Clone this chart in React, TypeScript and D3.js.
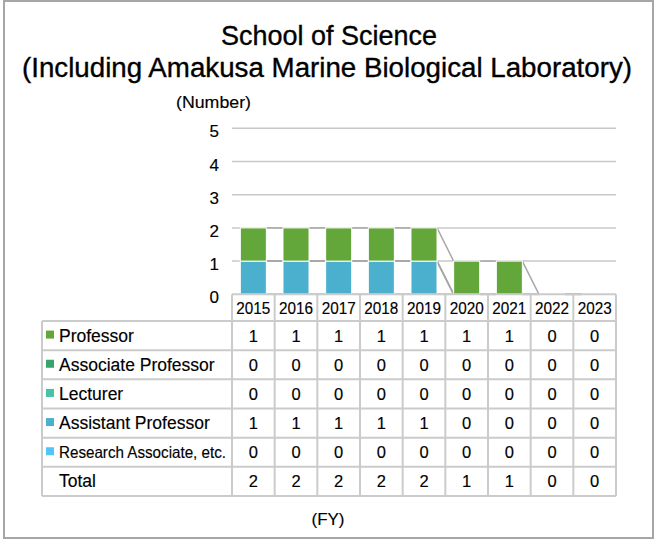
import React from "react";
import * as d3 from "d3";

const years = ["2015", "2016", "2017", "2018", "2019", "2020", "2021", "2022", "2023"];
const seriesNames = ["Professor", "Associate Professor", "Lecturer", "Assistant Professor", "Research Associate, etc."];
const professor = [1, 1, 1, 1, 1, 1, 1, 0, 0];
const associateProfessor = [0, 0, 0, 0, 0, 0, 0, 0, 0];
const lecturer = [0, 0, 0, 0, 0, 0, 0, 0, 0];
const assistantProfessor = [1, 1, 1, 1, 1, 0, 0, 0, 0];
const researchAssociate = [0, 0, 0, 0, 0, 0, 0, 0, 0];
const yTicks = [0, 1, 2, 3, 4, 5];
const seriesColors = ["#63A63A", "#38A36B", "#46C3A6", "#4BB0CD", "#52C4F7"];

const seriesValues = [professor, associateProfessor, lecturer, assistantProfessor, researchAssociate];
const totals = years.map((_, i) => seriesValues.reduce((s, arr) => s + arr[i], 0));

const FONT = "'Liberation Sans', Arial, Helvetica, sans-serif";

export default function App() {
  const W = 659, H = 541;
  const x = d3.scaleBand<string>().domain(years).range([232, 616]).padding(0);
  const y = d3.scaleLinear().domain([0, 5]).range([294.3, 128.3]);
  const barW = x.bandwidth() * 0.61;
  const barX = (yr: string) => (x(yr) as number) + (x.bandwidth() - barW) / 2;

  const rows = [...seriesNames, "Total"];
  const rowScale = d3.scaleBand<string>().domain(rows).range([321, 496]).padding(0);
  const tableTop = y(0);
  const tableBottom = 496;
  const tableLeft = 42;

  const table = years.map((yr, i) => {
    const o: any = { year: yr };
    seriesNames.forEach((n, k) => (o[n] = seriesValues[k][i]));
    return o;
  });
  const stackKeys = [...seriesNames].reverse();
  const stacked = d3.stack<any>().keys(stackKeys)(table);

  const gridColor = "#C8C8C8";
  const lineColor = "#A8A8A8";
  const tableColor = "#CBCBCB";
  const txt = { fill: "#000", stroke: "#000", strokeWidth: 0.15 };

  return (
    <svg width={W} height={H} style={{ position: "absolute", left: 0, top: 0 }} fontFamily={FONT}>
      <rect x={0} y={0} width={W} height={H} fill="#fff" />
      <rect x={4} y={1} width={649} height={537} fill="none" stroke="#A6A6A6" strokeWidth={2} />

      <text x={329} y={45} textAnchor="middle" fontSize={27} {...txt} strokeWidth={0.35} textLength={216} lengthAdjust="spacingAndGlyphs">School of Science</text>
      <text x={327} y={77} textAnchor="middle" fontSize={27} {...txt} strokeWidth={0.35} textLength={610} lengthAdjust="spacingAndGlyphs">
        (Including Amakusa Marine Biological Laboratory)
      </text>
      <text x={176} y={108} fontSize={17} {...txt} textLength={75} lengthAdjust="spacingAndGlyphs">(Number)</text>

      {yTicks.filter((t) => t > 0).map((t) => (
        <line key={t} x1={232} x2={616} y1={y(t)} y2={y(t)} stroke={gridColor} strokeWidth={1.5} />
      ))}
      {yTicks.map((t) => (
        <text key={"yl" + t} x={219} y={y(t) + 9} textAnchor="end" fontSize={17} {...txt}>{t}</text>
      ))}

      {stacked.map((s) =>
        s.slice(0, -1).map((d, i) => {
          const next = s[i + 1];
          return (
            <line
              key={s.key + i}
              x1={barX(years[i]) + barW}
              y1={y(d[1])}
              x2={barX(years[i + 1])}
              y2={y(next[1])}
              stroke={lineColor}
              strokeWidth={1.5}
            />
          );
        })
      )}

      {stacked.map((s) => {
        const color = seriesColors[seriesNames.indexOf(s.key as string)];
        return s.map((d, i) =>
          d[1] - d[0] > 0 ? (
            <rect
              key={s.key + "b" + i}
              x={barX(years[i])}
              y={y(d[1])}
              width={barW}
              height={y(d[0]) - y(d[1])}
              fill={color}
              stroke="#fff"
              strokeWidth={1}
            />
          ) : null
        );
      })}

      <g stroke={tableColor} strokeWidth={2} fill="none">
        <line x1={232} x2={616} y1={tableTop} y2={tableTop} />
        {rows.map((r) => (
          <line key={"h" + r} x1={tableLeft} x2={616} y1={rowScale(r) as number} y2={rowScale(r) as number} />
        ))}
        <line x1={tableLeft} x2={616} y1={tableBottom} y2={tableBottom} />
        <line x1={tableLeft} x2={tableLeft} y1={321} y2={tableBottom} />
        {years.map((yr) => (
          <line key={"v" + yr} x1={x(yr) as number} x2={x(yr) as number} y1={tableTop} y2={tableBottom} />
        ))}
        <line x1={616} x2={616} y1={tableTop} y2={tableBottom} />
      </g>
      {years.map((yr) => (
        <text key={"yr" + yr} x={(x(yr) as number) + x.bandwidth() / 2} y={313.5} textAnchor="middle" fontSize={16} {...txt} textLength={34} lengthAdjust="spacingAndGlyphs">{yr}</text>
      ))}
      {rows.map((r, k) => {
        const cy = (rowScale(r) as number) + rowScale.bandwidth() / 2;
        const isTotal = r === "Total";
        const vals = isTotal ? totals : seriesValues[k];
        return (
          <g key={"row" + r}>
            {!isTotal && (
              <rect x={46} y={cy - 5} width={8} height={8} fill={seriesColors[k]} />
            )}
            {r === "Research Associate, etc." ? (
              <text x={59} y={cy + 6} fontSize={16.5} {...txt} textLength={167} lengthAdjust="spacingAndGlyphs">{r}</text>
            ) : (
              <text x={59} y={cy + 6} fontSize={17.5} {...txt}>{r}</text>
            )}
            {vals.map((v, i) => (
              <text key={i} x={(x(years[i]) as number) + x.bandwidth() / 2} y={cy + 6} textAnchor="middle" fontSize={16.5} {...txt}>{v}</text>
            ))}
          </g>
        );
      })}
      <text x={328} y={525} textAnchor="middle" fontSize={17} {...txt}>(FY)</text>
    </svg>
  );
}
